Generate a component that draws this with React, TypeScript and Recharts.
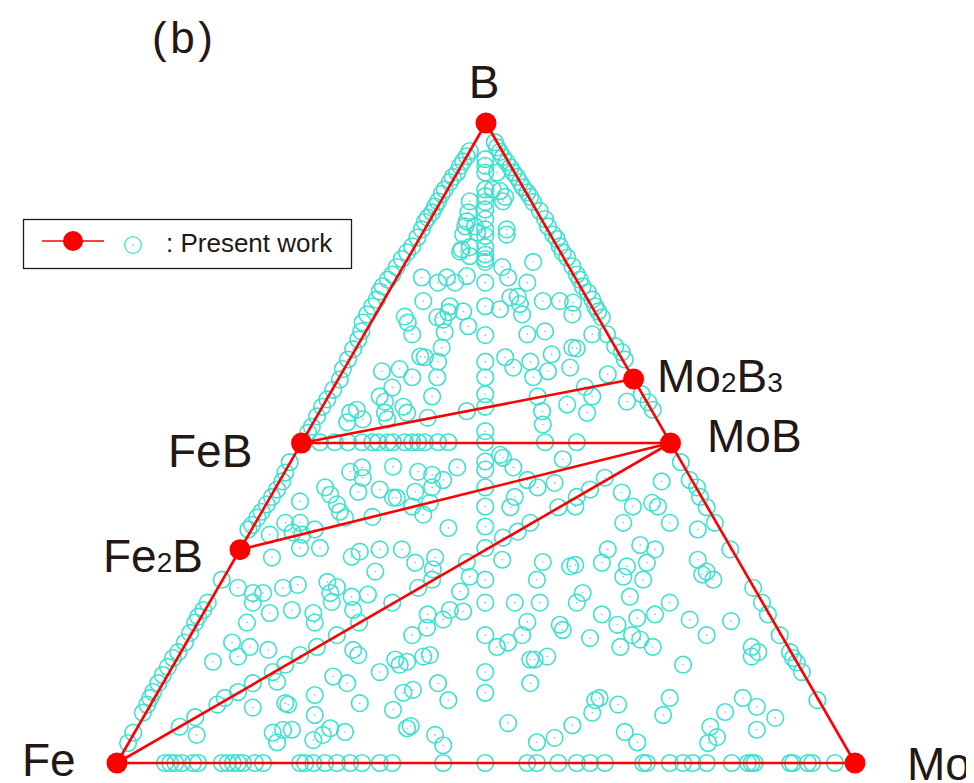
import { ScatterChart, Scatter, XAxis, YAxis } from 'recharts'

// ternary frame: Fe at (0,0), Mo at (100,0), B at (50,86.6)
const H = 86.6

// computed compounds (composition fractions)
const phaseNames = ['Fe', 'Mo', 'B', 'FeB', 'Fe2B', 'MoB', 'Mo2B3']
const phaseB = [0, 0, 1, 0.5, 1 / 3, 0.5, 0.6]
const phaseMo = [0, 1, 0, 0, 0, 0.5, 0.4]

// convex hull segments
const tieLines = [
  ['Fe', 'B'],
  ['B', 'Mo'],
  ['Mo', 'Fe'],
  ['Fe', 'MoB'],
  ['Fe2B', 'MoB'],
  ['FeB', 'MoB'],
  ['FeB', 'Mo2B3'],
]

// searched structures, [x, y] in the ternary frame
const feBEdgePts = [
  [47.8, 82.8], [47.4, 82.1], [46.9, 81.4], [46.5, 80.8], [46.1, 79.9], [45.5, 79.3], [45.1, 78.6],
  [44.4, 77.6], [44.0, 77.0], [43.5, 76.0], [43.1, 75.3], [42.7, 74.5], [42.1, 73.8], [41.7, 73.2],
  [41.3, 72.2], [40.7, 71.1], [40.0, 69.9], [39.3, 69.1], [38.6, 68.2], [37.9, 67.1], [37.3, 66.1],
  [36.7, 65.4], [36.0, 64.5], [35.6, 63.8], [35.2, 62.7], [34.6, 61.8], [33.9, 60.7], [33.3, 59.6],
  [33.1, 58.4], [32.7, 57.3], [32.0, 56.0], [31.3, 54.6], [30.6, 53.3], [30.2, 51.9], [29.3, 50.5],
  [28.5, 49.2], [27.8, 48.2], [27.1, 46.9], [26.4, 45.5], [25.9, 44.7],
  [23.4, 40.7], [22.8, 39.3], [22.4, 38.1], [21.7, 37.0], [21.0, 36.0], [20.3, 35.0], [19.6, 34.0],
  [19.0, 33.2], [18.3, 32.2], [17.8, 31.6],
  [14.2, 24.8], [12.3, 21.7], [11.7, 20.7], [11.0, 19.8], [10.6, 19.0], [9.9, 17.6], [9.2, 16.3],
  [8.3, 15.0], [7.6, 14.2], [6.9, 13.0], [6.2, 11.9], [5.6, 10.8], [4.9, 9.6], [4.5, 8.8], [4.1, 7.9],
  [3.5, 6.8], [2.2, 4.1], [1.5, 2.7],
]

const moBEdgePts = [
  [51.2, 84.0], [51.5, 83.3], [51.9, 82.7], [52.3, 82.0], [52.8, 81.3], [53.3, 80.6], [53.7, 79.9],
  [54.2, 79.3], [54.6, 78.6], [55.0, 77.9], [55.6, 77.2], [56.0, 76.6], [56.4, 75.9], [57.3, 74.7],
  [58.0, 73.6], [58.4, 72.6], [59.1, 71.5], [59.6, 70.9], [60.0, 69.9], [60.4, 69.1], [61.0, 68.4],
  [61.7, 67.2], [62.3, 66.1], [62.7, 65.4], [63.1, 64.5], [63.8, 63.7], [64.4, 62.7], [64.8, 61.8],
  [65.2, 61.1], [65.7, 60.3], [66.4, 58.0], [67.5, 56.4], [68.4, 55.6], [68.8, 54.6],
  [71.1, 49.9], [72.0, 48.8], [72.6, 47.8],
  [76.4, 40.7], [77.6, 38.3], [78.6, 37.3], [79.0, 36.0], [79.9, 34.6], [81.0, 32.5], [83.1, 28.9],
  [86.2, 23.7], [87.4, 21.7], [88.2, 20.1], [89.8, 17.3], [91.2, 15.0], [91.6, 14.2], [92.1, 13.6],
  [92.8, 12.3], [94.9, 8.5],
]

// Fe-Mo binary, x only
const feMoEdgeX = [
  6.5, 7.2, 7.9, 8.8, 10.3, 11.0, 14.2, 15.0, 15.7, 16.4, 17.1, 18.7, 19.8, 24.8, 25.5, 26.6, 28.2,
  29.8, 31.6, 33.2, 35.6, 37.3, 44.2, 49.9, 55.6, 56.9, 59.8, 62.3, 64.1, 66.1, 71.3, 71.8, 74.9,
  76.7, 78.0, 79.9, 83.3, 85.5, 86.0, 86.4, 91.2, 91.6, 93.6, 94.2, 97.3,
]

// Fe:Mo = 1:1 section, y only
const midColumnY = [
  81.7, 80.8, 79.9, 77.6, 76.7, 75.9, 74.9, 73.6, 72.2, 71.3, 69.8, 68.8, 68.2, 67.8, 65.0, 61.8,
  57.9, 54.3, 52.2, 49.9, 48.2, 44.9, 43.4, 40.8, 39.7, 37.3, 34.7, 32.0, 29.1, 24.8, 21.7, 17.3,
  12.3, 9.5,
]

const interiorPts = [
  [51.5, 79.9], [50.9, 77.6], [51.9, 77.4], [52.6, 76.6], [52.3, 76.0], [47.8, 76.0], [47.6, 74.5],
  [47.4, 73.3], [47.2, 72.6], [46.9, 71.5], [46.7, 69.5], [46.5, 69.2], [48.5, 72.6], [48.8, 71.8],
  [47.8, 69.8], [47.8, 68.6], [52.8, 72.2], [52.8, 71.5], [56.4, 67.8], [52.2, 67.1], [53.0, 65.7],
  [41.3, 65.7], [43.5, 65.0], [44.7, 65.7], [45.8, 65.0], [47.4, 65.9], [55.6, 65.0], [41.5, 62.5],
  [45.1, 61.8], [44.9, 61.0], [44.2, 60.0], [43.4, 60.3], [46.9, 61.1], [39.0, 60.4], [39.4, 59.6],
  [47.6, 59.1], [40.0, 58.0], [51.9, 61.4], [53.3, 63.0], [54.3, 63.1], [54.6, 62.1], [54.9, 60.7],
  [55.6, 58.0], [57.7, 62.5], [60.0, 62.5], [61.8, 62.3], [61.7, 60.7], [58.0, 58.4], [64.4, 58.0],
  [44.4, 58.3],
  [31.6, 47.4], [31.2, 46.1], [32.5, 47.8], [33.3, 46.5], [41.1, 55.0], [41.7, 54.9], [44.0, 56.2],
  [43.5, 54.3], [52.6, 54.9], [53.7, 53.5], [56.0, 54.3], [58.9, 55.3], [61.7, 56.2], [62.3, 56.1],
  [58.4, 53.0], [61.4, 53.5], [35.9, 53.0], [38.3, 53.3], [40.0, 52.2], [43.4, 52.2], [56.4, 52.2],
  [37.3, 50.8], [35.6, 49.6], [36.3, 48.9], [42.7, 49.6], [63.4, 50.9], [64.4, 49.6], [38.8, 48.2],
  [39.3, 47.4], [36.3, 47.4], [36.6, 46.5], [42.1, 46.7], [47.4, 47.6], [57.0, 49.6], [57.6, 47.6],
  [61.0, 48.5], [63.7, 47.4], [66.5, 52.6], [69.1, 48.9], [57.7, 45.8],
  [27.5, 43.4], [29.5, 43.4], [31.3, 43.4], [33.2, 43.4], [34.6, 43.4], [35.4, 43.4], [36.7, 43.4],
  [37.4, 43.4], [39.0, 43.4], [40.0, 43.4], [40.8, 43.4], [41.7, 43.4], [43.5, 43.4], [44.9, 43.4],
  [58.0, 43.4], [62.3, 43.4],
  [31.6, 39.4], [33.2, 40.0], [33.3, 38.6], [32.7, 36.7], [37.4, 40.1], [40.8, 39.4], [42.7, 39.0],
  [44.2, 38.3], [46.1, 40.0], [35.6, 37.0], [37.4, 35.9], [37.9, 35.9], [40.4, 36.7], [42.7, 37.3],
  [40.0, 34.7], [41.5, 33.6], [42.4, 35.2], [34.6, 33.3], [44.9, 31.8], [51.9, 41.7], [52.3, 41.3],
  [53.7, 40.0], [55.6, 38.3], [57.0, 37.3], [59.3, 37.9], [60.4, 41.1], [53.9, 36.0], [53.3, 34.6],
  [56.0, 32.5], [54.3, 31.3], [52.3, 30.5], [59.8, 34.6], [62.1, 34.7], [62.3, 36.0], [64.1, 37.0],
  [66.1, 38.6], [32.9, 28.6], [35.6, 28.9], [38.6, 28.9],
  [28.2, 37.3], [28.9, 36.3], [29.8, 35.0], [30.2, 34.0], [30.9, 33.2], [24.8, 35.4], [22.8, 32.5],
  [24.8, 32.5], [23.8, 31.2], [25.1, 30.9], [26.8, 31.6], [20.7, 30.9], [24.8, 29.1], [27.5, 29.1],
  [21.0, 27.8], [31.8, 27.9], [16.4, 23.7], [18.4, 23.0], [19.8, 23.0], [18.4, 21.7], [22.5, 23.7],
  [24.5, 24.1], [20.7, 20.3], [23.7, 20.7], [28.5, 24.5], [28.9, 23.0], [29.8, 23.8], [29.1, 21.8],
  [26.6, 20.3], [31.8, 22.5], [32.0, 20.7], [17.6, 19.0], [26.8, 19.0], [32.8, 19.0],
  [15.6, 16.3], [18.0, 15.7], [16.4, 14.4], [20.5, 15.3], [13.0, 13.7], [27.1, 15.7], [29.8, 17.3],
  [32.0, 15.3], [32.7, 14.6], [22.8, 13.3], [24.8, 14.6], [21.1, 12.3], [21.7, 11.0], [18.4, 10.8],
  [16.4, 9.6], [14.6, 8.8], [13.6, 7.9], [10.6, 6.2], [8.5, 4.9], [10.8, 3.8], [18.4, 7.5],
  [22.8, 8.1], [23.2, 7.9], [26.8, 9.2], [26.8, 6.5], [29.3, 11.7], [31.2, 10.8], [21.1, 4.1],
  [22.5, 4.5], [23.7, 4.5], [21.7, 2.8], [26.6, 3.1], [27.9, 3.8], [28.9, 4.7], [30.9, 4.2],
  [32.9, 8.1],
  [43.1, 27.8], [42.8, 26.2], [42.7, 24.8], [40.4, 27.1], [35.0, 25.9], [47.4, 27.2], [47.8, 25.2],
  [52.2, 27.5], [57.7, 27.2], [61.4, 26.6], [62.1, 26.8], [56.9, 24.8], [34.0, 22.8], [37.3, 21.7],
  [40.8, 23.7], [46.5, 23.2], [53.9, 21.7], [57.3, 21.7], [63.1, 23.0], [62.3, 21.7], [45.1, 20.7],
  [44.2, 19.4], [46.9, 20.5], [42.1, 20.1], [42.0, 18.3], [40.0, 17.3], [51.5, 15.7], [53.0, 16.3],
  [54.9, 17.3], [55.6, 19.1], [60.0, 18.7], [60.4, 18.0], [64.1, 16.9], [37.7, 14.0], [38.3, 13.3],
  [39.3, 13.7], [41.5, 14.4], [42.4, 14.6], [35.6, 12.3], [56.0, 14.0], [56.6, 14.0], [58.3, 14.4],
  [56.0, 10.8], [43.5, 10.8], [44.9, 8.5], [38.8, 9.5], [40.1, 9.9], [37.4, 7.2], [64.8, 8.5],
  [64.4, 6.8], [61.7, 5.1], [53.0, 5.4], [39.3, 4.7], [39.8, 5.0], [43.1, 3.8], [44.2, 2.4],
  [56.9, 2.8], [59.3, 3.4],
  [73.8, 38.1], [68.4, 36.6], [69.9, 34.7], [72.5, 35.2], [73.3, 34.7], [68.6, 32.5], [74.9, 32.5],
  [78.7, 31.6], [66.5, 28.9], [70.9, 29.5], [72.9, 28.9], [65.7, 27.1], [69.1, 26.6], [68.6, 25.2],
  [71.8, 27.1], [71.3, 24.8], [78.7, 27.5], [79.9, 25.9], [79.3, 25.5], [80.8, 24.8], [69.5, 22.5],
  [74.9, 21.7], [65.7, 20.1], [67.8, 18.7], [70.5, 19.6], [72.9, 20.1], [77.6, 19.4], [83.2, 19.2],
  [79.9, 17.3], [69.8, 17.3], [70.9, 16.7], [68.2, 15.7], [72.6, 15.7], [76.7, 13.3], [86.0, 15.7],
  [86.9, 15.0], [86.0, 14.4], [65.4, 8.8], [67.9, 7.9], [74.9, 8.8], [74.0, 6.5], [84.8, 8.8],
  [86.7, 7.6], [89.2, 6.1], [82.4, 6.9], [68.8, 4.2], [70.5, 2.8], [80.4, 4.9], [81.3, 3.5],
  [80.1, 2.7], [86.7, 4.5],
]

const CYAN = '#40E0D0'
const RED = '#FF0000'
const INK = '#231815'
const FONT = '"Liberation Sans", Arial, sans-serif'

const toXY = (b: number, mo: number) => ({ x: (mo + b / 2) * 100, y: b * H })

const phases = phaseNames.map((name, i) => ({ name, ...toXY(phaseB[i], phaseMo[i]) }))
const phaseByName = Object.fromEntries(phases.map((p) => [p.name, p]))

const searched = [
  ...feBEdgePts.map(([x, y]) => ({ x, y })),
  ...moBEdgePts.map(([x, y]) => ({ x, y })),
  ...feMoEdgeX.map((x) => ({ x, y: 0 })),
  ...midColumnY.map((y) => ({ x: 49.9, y })),
  ...interiorPts.map(([x, y]) => ({ x, y })),
]

const Ring = (props: any) => (
  <g>
    <circle cx={props.cx} cy={props.cy} r={8.3} fill="none" stroke={CYAN} strokeWidth={1.6} />
    <circle cx={props.cx} cy={props.cy} r={0.8} fill={CYAN} />
  </g>
)

const Dot = (props: any) => <circle cx={props.cx} cy={props.cy} r={10.5} fill={RED} />

const NoShape = () => <g />

export default function App() {
  const label = { fontFamily: FONT, fill: INK, fontSize: 46 }
  return (
    <div style={{ position: 'relative', width: 974, height: 783, marginTop: -8, marginLeft: -8, background: '#fff' }}>
      <ScatterChart width={974} height={783} margin={{ top: 123, right: 119, bottom: 20, left: 117 }}>
        <XAxis type="number" dataKey="x" domain={[0, 100]} hide />
        <YAxis type="number" dataKey="y" domain={[0, H]} hide />
        <Scatter data={searched} shape={Ring} isAnimationActive={false} />
        {tieLines.map(([a, b]) => (
          <Scatter
            key={a + b}
            data={[phaseByName[a], phaseByName[b]]}
            line={{ stroke: RED, strokeWidth: 2.6 }}
            shape={NoShape}
            isAnimationActive={false}
          />
        ))}
        <Scatter data={phases} shape={Dot} isAnimationActive={false} />
      </ScatterChart>

      <svg width={974} height={783} style={{ position: 'absolute', left: 0, top: 0, pointerEvents: 'none' }}>
        <text x={152} y={53} {...label} fontSize={44} textLength={61} lengthAdjust="spacing">(b)</text>
        <text x={484} y={98} {...label} textAnchor="middle">B</text>
        <text x={657} y={392} {...label}>
          Mo<tspan fontSize={28}>2</tspan>B<tspan fontSize={28}>3</tspan>
        </text>
        <text x={707} y={452} {...label}>MoB</text>
        <text x={168} y={467} {...label}>FeB</text>
        <text x={103} y={572} {...label}>
          Fe<tspan fontSize={28}>2</tspan>B
        </text>
        <text x={22} y={776} {...label}>Fe</text>
        <text x={907} y={780} {...label}>Mo</text>

        <rect x={23.5} y={219.5} width={328} height={49} fill="#fff" stroke={INK} strokeWidth={1.3} />
        <line x1={42} y1={241} x2={104} y2={241} stroke={RED} strokeWidth={1.5} />
        <circle cx={73} cy={241} r={10} fill={RED} />
        <circle cx={133} cy={245} r={8.3} fill="none" stroke={CYAN} strokeWidth={1.3} />
        <circle cx={133} cy={245} r={0.8} fill={CYAN} />
        <text x={166} y={252} fontFamily={FONT} fill={INK} fontSize={26}>: Present work</text>
      </svg>
    </div>
  )
}
